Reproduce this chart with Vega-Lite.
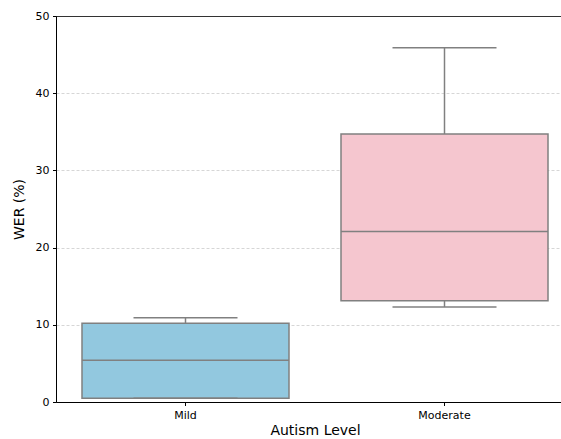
{
  "$schema": "https://vega.github.io/schema/vega-lite/v6.json",
  "width": 518,
  "height": 386,
  "autosize": {"type": "none"},
  "padding": {"left": 56, "top": 16, "right": 0, "bottom": 37},
  "background": "white",
  "config": {
    "font": "DejaVu Sans",
    "view": {"stroke": "#333333", "strokeWidth": 1},
    "axis": {
      "labelFont": "DejaVu Sans",
      "titleFont": "DejaVu Sans",
      "labelFontSize": 11,
      "titleFontSize": 14,
      "titleFontWeight": "normal",
      "labelColor": "#000000",
      "titleColor": "#000000",
      "domainColor": "#000000",
      "tickColor": "#000000",
      "tickSize": 3.5,
      "labelPadding": 3.5
    }
  },
  "data": {
    "values": [
      {"level": "Mild", "min": 0.5, "q1": 0.5, "median": 5.4, "q3": 10.2, "max": 10.9},
      {"level": "Moderate", "min": 12.3, "q1": 13.1, "median": 22.1, "q3": 34.7, "max": 45.9}
    ]
  },
  "encoding": {
    "x": {
      "field": "level",
      "type": "nominal",
      "sort": ["Mild", "Moderate"],
      "scale": {"paddingInner": 0, "paddingOuter": 0},
      "axis": {"title": "Autism Level", "labelAngle": 0, "titlePadding": 3, "grid": false}
    }
  },
  "layer": [
    {
      "mark": {"type": "rule", "color": "#808080", "strokeWidth": 1.5},
      "encoding": {
        "y": {
          "field": "min",
          "type": "quantitative",
          "scale": {"domain": [0, 50], "nice": false},
          "axis": {
            "title": "WER (%)",
            "values": [0, 10, 20, 30, 40, 50],
            "grid": true,
            "gridColor": {"condition": {"test": "datum.value === 50", "value": "#333333"}, "value": "#cccccc"},
            "gridDash": {"condition": {"test": "datum.value === 50", "value": []}, "value": [3, 2]},
            "gridWidth": {"condition": {"test": "datum.value === 50", "value": 1}, "value": 0.8},
            "titlePadding": 9
          }
        },
        "y2": {"field": "q1"}
      }
    },
    {
      "mark": {"type": "rule", "color": "#808080", "strokeWidth": 1.5},
      "encoding": {
        "y": {"field": "q3", "type": "quantitative"},
        "y2": {"field": "max"}
      }
    },
    {
      "mark": {"type": "bar", "size": 207, "stroke": "#808080", "strokeWidth": 1.5},
      "encoding": {
        "y": {"field": "q1", "type": "quantitative"},
        "y2": {"field": "q3"},
        "fill": {
          "field": "level",
          "type": "nominal",
          "scale": {"domain": ["Mild", "Moderate"], "range": ["#92c8df", "#f5c6cf"]},
          "legend": null
        }
      }
    },
    {
      "mark": {"type": "tick", "size": 207, "thickness": 1.5, "color": "#808080", "opacity": 1},
      "encoding": {"y": {"field": "median", "type": "quantitative"}}
    },
    {
      "mark": {"type": "tick", "size": 104, "thickness": 1.5, "color": "#808080", "opacity": 1},
      "encoding": {"y": {"field": "min", "type": "quantitative"}}
    },
    {
      "mark": {"type": "tick", "size": 104, "thickness": 1.5, "color": "#808080", "opacity": 1},
      "encoding": {"y": {"field": "max", "type": "quantitative"}}
    }
  ]
}
